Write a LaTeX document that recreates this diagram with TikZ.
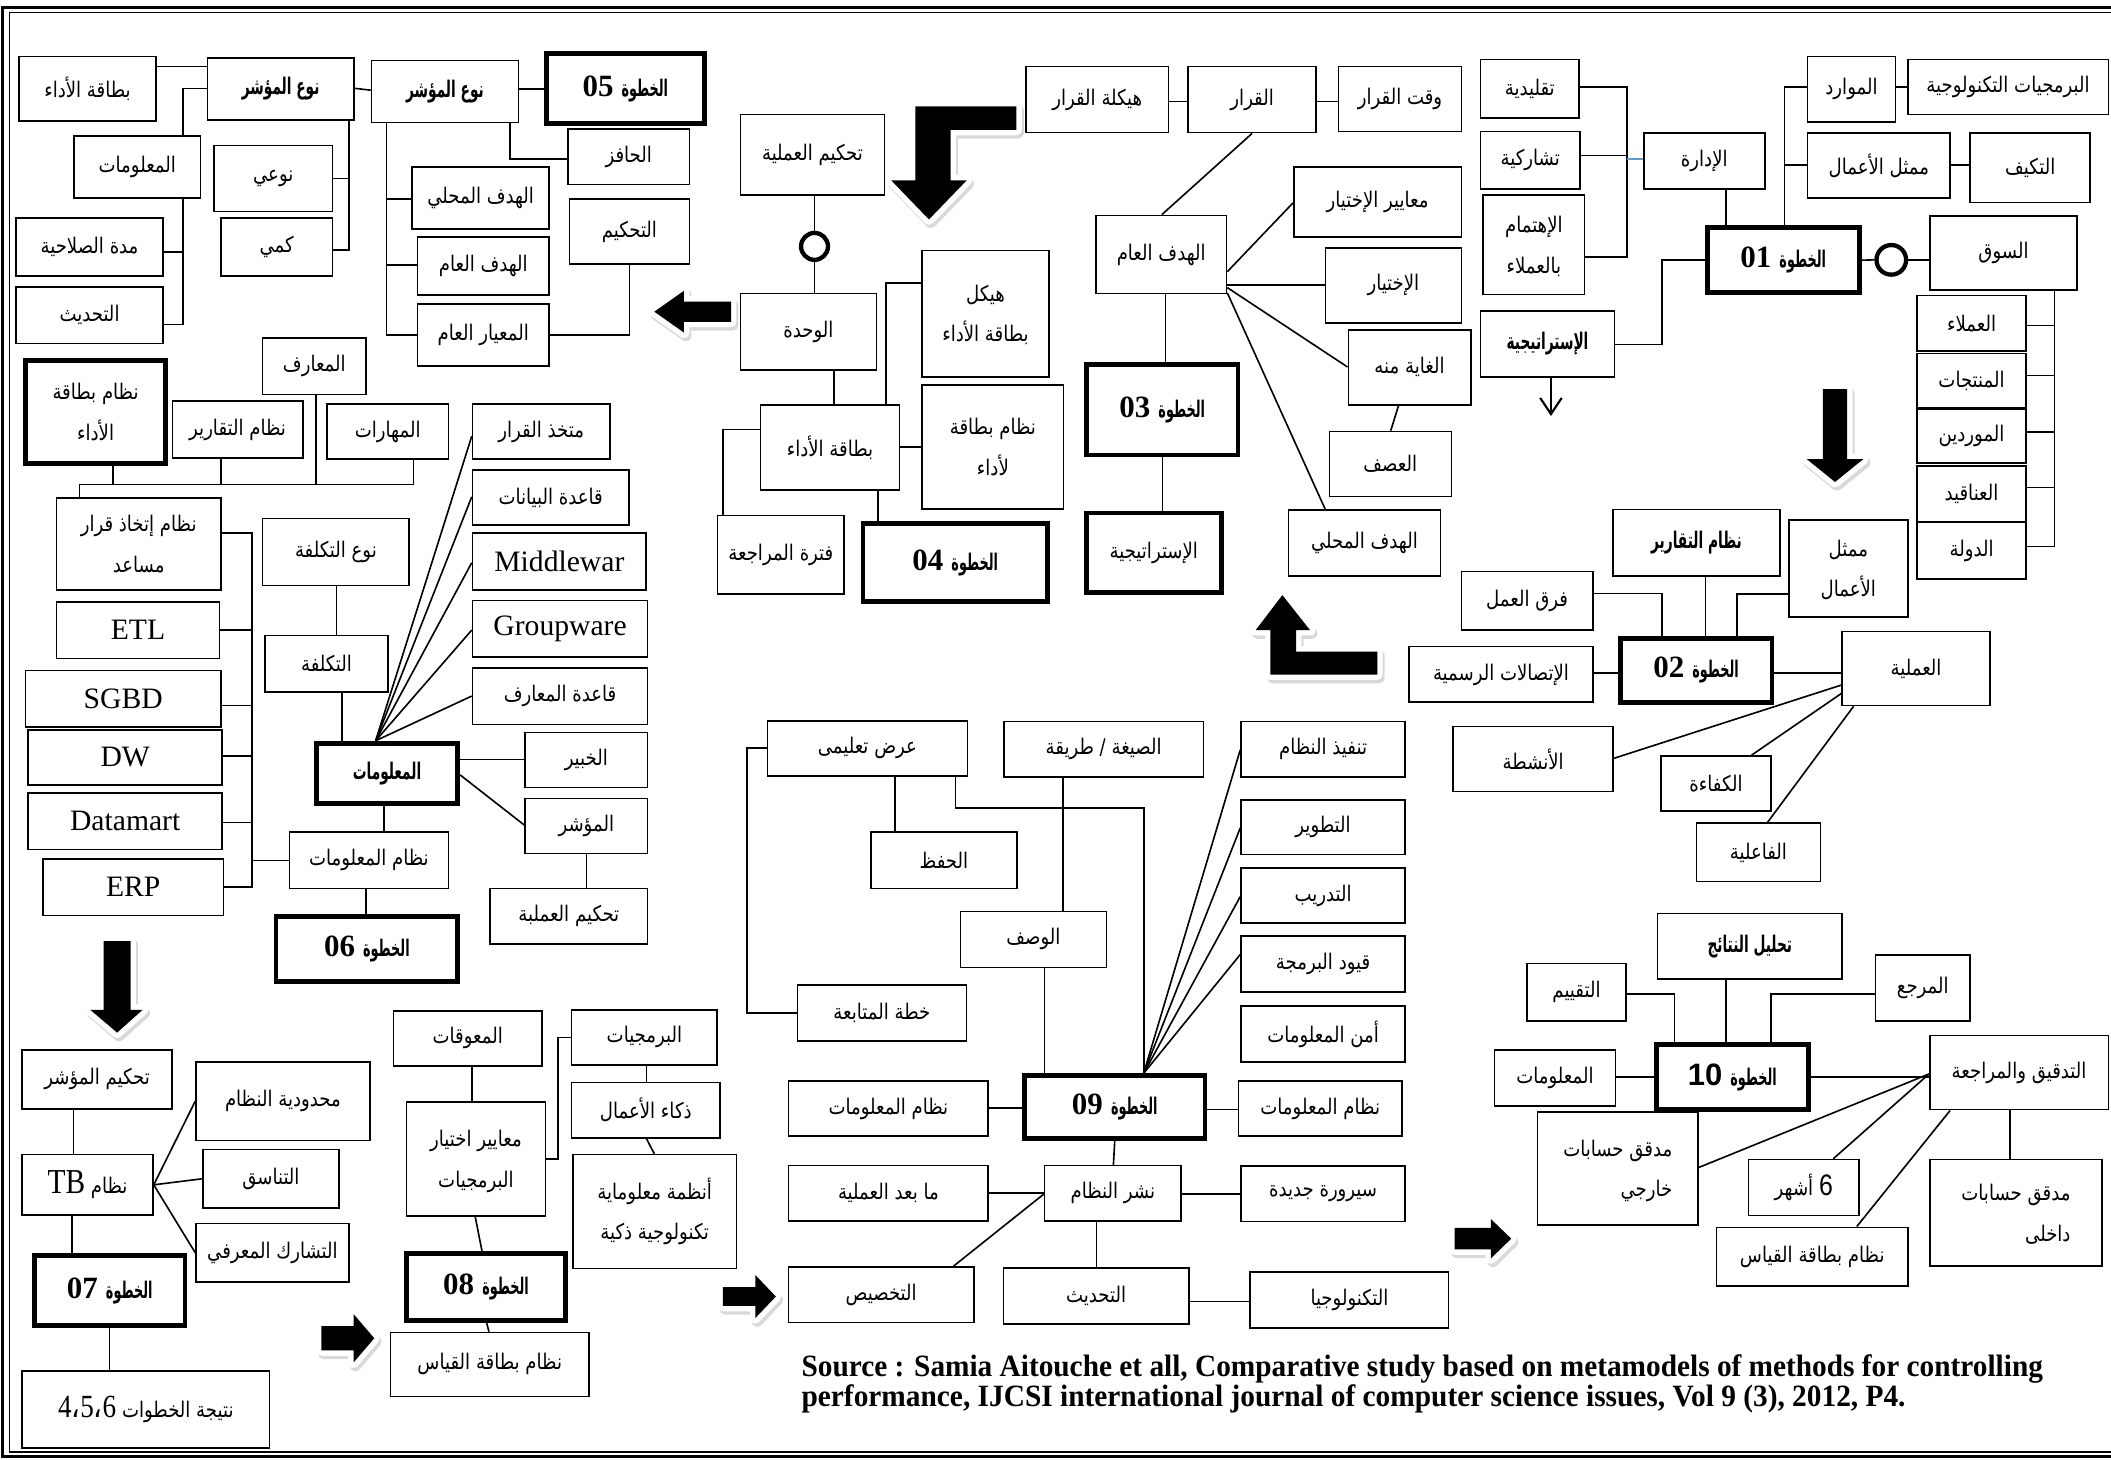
\documentclass[tikz,border=0pt]{standalone}
\usepackage{fontspec}
\usepackage{graphicx}
\setmainfont{Liberation Serif}
\setsansfont{Liberation Sans}
\newfontfamily\arabicfont[Script=Arabic]{DejaVu Sans}
\TeXXeTstate=1
\usetikzlibrary{fit,arrows.meta}
\definecolor{linkblue}{RGB}{91,155,213}

% right-to-left text runs (regular and bold), slightly condensed
\newcommand\ar[1]{\scalebox{0.84}[1]{\beginR#1\endR}}
\newcommand\arb[1]{\scalebox{0.6}[1]{\beginR#1\endR}}
% two stacked lines
\newcommand\two[2]{\begin{tabular}{@{}c@{}}#1\\#2\end{tabular}}
\newcommand\twor[2]{\begin{tabular}{@{}r@{}}#1\\#2\end{tabular}}
% "step NN" label: number on the left, word on the right
\newcommand\stepnum[2][\rmfamily]{{#1\fontsize{11.5}{12}\selectfont #2}\hspace{3pt}\scalebox{0.56}[1]{الخطوة}}
% box from corner (#3) to corner (#4), with its text centred on it
\newcommand\bx[5][]{%
  \node[box,#1,fit={(#3) (#4)}] (#2) {};
  \node[txt,#1] (#2t) at (#2.center) {#5};}
% black block arrow with white rim and soft shadow
\newcommand\glowarrow[1]{%
  \filldraw[gray!30, line width=4pt, line join=round, shift={(1.5,2.5)}] #1;
  \filldraw[fill=black, draw=white, line width=4pt, line join=round] #1;
  \fill[black] #1;}

\tikzset{
  box/.style={draw, line width=0.6pt, fill=white, inner sep=0pt},
  txt/.style={inner sep=0pt, font=\arabicfont\fontsize{8}{15}\selectfont},
  stepbox/.style={line width=1.8pt, font=\arabicfont\bfseries\fontsize{8.5}{12}\selectfont},
  stepplain/.style={line width=1.8pt},
  boldtxt/.style={font=\arabicfont\bfseries\fontsize{8.5}{12}\selectfont},
  lat/.style={font=\rmfamily\fontsize{11}{13}\selectfont},
  ln/.style={line width=0.6pt},
  ring/.style={circle, draw, line width=1.6pt, fill=white, minimum size=10pt, inner sep=0pt}
}

\begin{document}
\begin{tikzpicture}[x=0.5pt,y=-0.5pt]
\useasboundingbox (0,0) rectangle (1568,1084);

% page frame
\draw[line width=1.2pt] (1568,5.5) -- (2,5.5) -- (2,1082) -- (1568,1082);
\draw[line width=0.5pt] (1568,9.5) -- (7,9.5) -- (7,1078.5) -- (1568,1078.5);

% block arrows between the stages
\glowarrow{(508,224) -- (543,224) -- (543,239) -- (508,239) -- (508,247) -- (486,231.5) -- (508,216) -- cycle}
\glowarrow{(755,79) -- (680,79) -- (680,134) -- (662,134) -- (690,163) -- (718,134) -- (706,134) -- (706,96.5) -- (755,96.5) -- cycle}
\glowarrow{(1023,484) -- (1023,501) -- (943.6,501) -- (943.6,468) -- (932.7,468) -- (952.5,442) -- (973,468) -- (962.7,468) -- (962.7,484) -- cycle}
\glowarrow{(1354,289) -- (1372,289) -- (1372,341) -- (1384,341) -- (1363,358) -- (1342,341) -- (1354,341) -- cycle}
\glowarrow{(77,699) -- (97,699) -- (97,750) -- (106,750) -- (87,767) -- (67,750) -- (77,750) -- cycle}
\glowarrow{(238.7,985) -- (262.6,985) -- (262.6,976) -- (278,994) -- (262.6,1012) -- (262.6,1003) -- (238.7,1003) -- cycle}
\glowarrow{(537,956) -- (561,956) -- (561,947) -- (576.3,963) -- (561,979) -- (561,970) -- (537,970) -- cycle}
\glowarrow{(1080.4,912) -- (1107.4,912) -- (1107.4,905.5) -- (1122.5,920) -- (1107.4,934.7) -- (1107.4,928) -- (1080.4,928) -- cycle}

% ---------- step 05 ----------
\bx[stepbox]{n05}{406,40}{523,92}{\stepnum{05}}
\bx[boldtxt]{tA}{276,45}{385,91}{\arb{نوع المؤشر}}
\bx[boldtxt]{tB}{154,43}{263,89}{\arb{نوع المؤشر}}
\bx{bA}{14,42}{116,90}{\ar{بطاقة الأداء}}
\bx{hf}{422,96}{512,137}{\ar{الحافز}}
\bx{mal}{55,101}{149,147}{\ar{المعلومات}}
\bx{nw}{159,108}{247,157}{\ar{نوعي}}
\bx{km}{164,162}{247,205}{\ar{كمي}}
\bx{hm}{306,124}{408,170}{\ar{الهدف المحلي}}
\bx{tk}{423,148}{512,196}{\ar{التحكيم}}
\bx{md}{12,162}{121,205}{\ar{مدة الصلاحية}}
\bx{ha}{310,176}{408,219}{\ar{الهدف العام}}
\bx{th}{12,213}{121,255}{\ar{التحديث}}
\bx{ma}{310,226}{408,272}{\ar{المعيار العام}}

\draw[ln] (n05.west |- 0,66) -- (tA.east |- 0,66);
\draw[ln] (tA.west |- 0,67) -- (tB.east |- 0,65.6);
\draw[ln] (bA.east |- 0,49.5) -- (tB.west |- 0,49.5);
\draw[ln] (tB.west |- 0,65.6) -| (mal.north -| 136,0);
\draw[ln] (md.east |- 0,187) -| (mal.south -| 136,0);
\draw[ln] (th.east |- 0,241) -| (mal.south -| 136,0);
\draw[ln] (nw.east |- 0,132.5) -| (tB.south -| 259,0);
\draw[ln] (km.east |- 0,185.7) -| (tB.south -| 259,0);
\draw[ln] (hm.west |- 0,148) -| (tA.south -| 287,0);
\draw[ln] (ha.west |- 0,197) -| (tA.south -| 287,0);
\draw[ln] (ma.west |- 0,249) -| (tA.south -| 287,0);
\draw[ln] (hf.west |- 0,118) -| (tA.south -| 379,0);
\draw[ln] (tk.south) |- (ma.east |- 0,249);

% ---------- step 06 ----------
\bx[stepplain]{nbA}{19,268}{123,344}{\two{\ar{نظام بطاقة}}{\ar{الأداء}}}
\bx{maa}{195,251}{272,293}{\ar{المعارف}}
\bx{ntq}{128,298}{225,340}{\ar{نظام التقارير}}
\bx{mhr}{243,300}{333,341}{\ar{المهارات}}
\bx{mtk}{351,300}{453,341}{\ar{متخذ القرار}}
\bx{qb}{351,349}{467,390}{\ar{قاعدة البيانات}}
\bx{nit}{42,370}{164,438}{\two{\ar{نظام إتخاذ قرار}}{\ar{مساعد}}}
\bx{ntk}{195,385}{304,435}{\ar{نوع التكلفة}}
\bx[lat]{mw}{351,396}{480,438}{Middlewar}
\bx[lat]{etl}{42,447}{163,489}{ETL}
\bx[lat]{gw}{351,446}{481,488}{Groupware}
\bx{tkl}{197,472}{288,514}{\ar{التكلفة}}
\bx{qm}{351,496}{481,538}{\ar{قاعدة المعارف}}
\bx[lat]{sgbd}{19,498}{164,540}{SGBD}
\bx[lat]{dw}{21,542}{165,583}{DW}
\bx[stepbox]{mlm}{235,552}{340,597}{\arb{المعلومات}}
\bx{khb}{390,544}{481,585}{\ar{الخبير}}
\bx[lat]{dm}{21,589}{165,631}{Datamart}
\bx{msh}{390,593}{481,634}{\ar{المؤشر}}
\bx{nml}{215,618}{333,660}{\ar{نظام المعلومات}}
\bx[lat]{erp}{32,638}{166,680}{ERP}
\bx{tka}{364,660}{481,701}{\ar{تحكيم العملبة}}
\bx[stepbox]{n06}{205,681}{340,729}{\stepnum{06}}

\coordinate (bus6) at (59,360);
\draw[ln] (nit.north -| bus6) -- (bus6);
\draw[ln] (nbA.south -| 84,0) |- (bus6);
\draw[ln] (ntq.south -| 164,0) |- (bus6);
\draw[ln] (maa.south -| 234.6,0) |- (bus6);
\draw[ln] (mhr.south -| 307,0) |- (bus6);
\foreach \t/\y in {mtk/324, qb/369, mw/418, gw/468, qm/517}
  \draw[ln] (mlm.north -| 279,0) -- (\t.west |- 0,\y);
\draw[ln] (mlm.east |- 0,564) -- (khb.west |- 0,564);
\draw[ln] (mlm.east |- 0,575.6) -- (msh.west |- 0,612.8);
\draw[ln] (mlm.south -| 285,0) -- (nml.north -| 285,0);
\draw[ln] (nml.south -| 272,0) -- (n06.north -| 272,0);
\draw[ln] (msh.south -| 435.5,0) -- (tka.north -| 435.5,0);
\draw[ln] (ntk.south -| 250,0) -- (tkl.north -| 250,0);
\draw[ln] (tkl.south -| 254,0) -- (mlm.north -| 254,0);
\coordinate (bus7) at (187,639);
\draw[ln] (nml.west) -- (nml.west -| bus7);
\foreach \t/\y in {nit/396, etl/468, sgbd/524, dw/561.5, dm/611, erp/659}
  \draw[ln] (\t.east |- 0,\y) -| (bus7);

% ---------- step 04 ----------
\bx{tka2}{550,85}{657,145}{\ar{تحكيم العملية}}
\node[ring] (circ) at (605,183) {};
\bx{wh}{550,218}{651,275}{\ar{الوحدة}}
\bx{hyk}{685,186}{779,280}{\two{\ar{هيكل}}{\ar{بطاقة الأداء}}}
\bx{bta}{565,301}{668,364}{\ar{بطاقة الأداء}}
\bx{nbl}{685,286}{790,378}{\two{\ar{نظام بطاقة}}{\ar{لأداء}}}
\bx{ftr}{533,383}{627,441}{\ar{فترة المراجعة}}
\bx[stepbox]{n04}{641,389}{778,447}{\stepnum{04}}

\draw[ln] (circ.north) -- (circ.north |- tka2.south);
\draw[ln] (circ.south) -- (circ.south |- wh.north);
\draw[ln] (wh.south -| 619.6,0) -- (bta.north -| 619.6,0);
\draw[ln] (hyk.west |- 0,210.4) -| (bta.north -| 658,0);
\draw[ln] (bta.south -| 652,0) -- (n04.north -| 652,0);
\draw[ln] (bta.west |- 0,319) -| (ftr.north -| 537,0);
\draw[ln] (bta.east |- 0,332) -- (nbl.west |- 0,332);

% ---------- step 03 ----------
\bx{hyq}{762,49.5}{868,98.5}{\ar{هيكلة القرار}}
\bx{qr}{882.5,49.5}{977.7,98.5}{\ar{القرار}}
\bx{wq}{994.3,49.3}{1085.5,97.8}{\ar{وقت القرار}}
\bx{mkh}{961,124}{1085.5,176}{\ar{معايير الإختيار}}
\bx{ha3}{814,160}{911,218}{\ar{الهدف العام}}
\bx{ikh}{984.4,184}{1085.5,240}{\ar{الإختيار}}
\bx{gh}{1001.5,245}{1092.4,300.6}{\ar{الغاية منه}}
\bx[stepbox]{n03}{807,271}{919.5,338}{\stepnum{03}}
\bx{asf}{987.4,320.5}{1078,368.7}{\ar{العصف}}
\bx[stepplain]{ist}{807,381}{907,440}{\ar{الإستراتيجية}}
\bx{hm3}{957,379}{1070,428}{\ar{الهدف المحلي}}

\draw[ln] (hyq.east |- 0,75.5) -- (qr.west |- 0,75.5);
\draw[ln] (qr.east |- 0,75.5) -- (wq.west |- 0,75.5);
\draw[ln] (qr.south -| 930,0) -- (ha3.north -| 863,0);
\draw[ln] (ha3.east |- 0,201.8) -- (mkh.west |- 0,150.7);
\draw[ln] (ha3.east |- 0,211.5) -- (ikh.west |- 0,211.5);
\draw[ln] (ha3.east |- 0,213.6) -- (gh.west |- 0,272.6);
\draw[ln] (ha3.east |- 0,217.5) -- (hm3.north -| 984.4,0);
\draw[ln] (ha3.south -| 865.6,0) -- (n03.north -| 865.6,0);
\draw[ln] (n03.south -| 863.4,0) -- (ist.north -| 863.4,0);
\draw[ln] (gh.south -| 1038.8,0) -- (asf.north -| 1033,0);

% ---------- step 01 ----------
\bx{tql}{1099.6,44.3}{1173,87.5}{\ar{تقليدية}}
\bx{tsh}{1099.6,97.6}{1173.7,140.6}{\ar{تشاركية}}
\bx{ihm}{1101.6,145}{1177,218.8}{\two{\ar{الإهتمام}}{\ar{بالعملاء}}}
\bx[boldtxt]{ist1}{1099.6,230.8}{1199.3,279.8}{\arb{الإستراتيجية}}
\bx{idr}{1221,98.7}{1310.8,140.6}{\ar{الإدارة}}
\bx[stepbox]{n01}{1268,169}{1381,217.5}{\stepnum{01}}
\bx{mwr}{1342.5,42}{1408,90.7}{\ar{الموارد}}
\bx{brt}{1417,44.3}{1566,84.9}{\ar{البرمجيات التكنولوجية}}
\bx{mma}{1342.5,98.7}{1448.5,147.2}{\ar{ممثل الأعمال}}
\bx{tky}{1463.4,98.7}{1552.6,150.4}{\ar{التكيف}}
\node[ring, minimum size=11pt] (circ1) at (1404.8,193) {};
\bx{swq}{1433.4,160.5}{1542.9,215.4}{\ar{السوق}}
\bx{aml}{1424,219.6}{1504.8,260.5}{\ar{العملاء}}
\bx{mnt}{1424,262.6}{1504.8,303}{\ar{المنتجات}}
\bx{mwd}{1424,303.7}{1504.8,344}{\ar{الموردين}}
\bx{anq}{1424,346}{1504.8,387.3}{\ar{العناقيد}}
\bx{dwl}{1424,387.8}{1504.8,430}{\ar{الدولة}}

\coordinate (bus1) at (1208.4,118);
\draw[ln] (tql.east |- 0,64.5) -| (bus1);
\draw[ln] (tsh.east |- 0,115.4) -| (bus1);
\draw[ln] (ihm.east |- 0,191) -| (bus1);
\draw[ln, linkblue] (bus1) -- (idr.west |- bus1);
\draw[ln] (idr.south -| 1281.8,0) -- (n01.north -| 1281.8,0);
\draw[ln] (mwr.west |- 0,64.5) -| (n01.north -| 1325.6,0);
\draw[ln] (mma.west |- 0,122.5) -| (n01.north -| 1325.6,0);
\draw[ln] (mwr.east |- 0,64.5) -- (brt.west |- 0,64.5);
\draw[ln] (mma.east |- 0,122.5) -- (tky.west |- 0,122.5);
\draw[ln] (n01.west) -- (n01.west -| 1234.7,0) |- (ist1.east |- 0,256);
\draw[ln] (n01.east) -- (circ1.west);
\draw[ln] (circ1.east) -- (swq.west |- circ1.east);
\coordinate (tip1) at (1152,309);
\draw[ln, line width=0.8pt, -{Straight Barb[length=6pt,width=8pt]}] (ist1.south -| tip1) -- (tip1);
\foreach \t/\y in {aml/241.9, mnt/279, mwd/321, anq/362, dwl/405.8}
  \draw[ln] (\t.east |- 0,\y) -| (swq.south -| 1526,0);

% ---------- step 02 ----------
\bx[boldtxt]{ntq2}{1198.3,378.3}{1321.9,427.8}{\arb{نظام التقارير}}
\bx{mma2}{1328.6,386.2}{1417.2,458.5}{\two{\ar{ممثل}}{\ar{الأعمال}}}
\bx{frq}{1085.5,424.6}{1183.1,467.9}{\ar{فرق العمل}}
\bx{itt}{1046.7,480.3}{1183.1,521.6}{\ar{الإتصالات الرسمية}}
\bx[stepbox]{n02}{1203.4,474}{1316.2,522}{\stepnum{02}}
\bx{aml2}{1368.4,469}{1478,524}{\ar{العملية}}
\bx{ans}{1079.4,539.7}{1198.3,588}{\ar{الأنشطة}}
\bx{kfa}{1233.7,561.5}{1315.5,602.4}{\ar{الكفاءة}}
\bx{fal}{1260,611.5}{1352.2,654.8}{\ar{الفاعلية}}

\draw[ln] (frq.east |- 0,440.7) -| (n02.north -| 1234.3,0);
\draw[ln] (ntq2.south -| 1266.7,0) -- (n02.north -| 1266.7,0);
\draw[ln] (mma2.west |- 0,441.2) -| (n02.north -| 1290,0);
\draw[ln] (itt.east |- 0,500) -- (n02.west |- 0,500);
\draw[ln] (n02.east |- 0,500) -- (aml2.west |- 0,500);
\draw[ln] (aml2.west |- 0,508.8) -- (ans.east |- 0,563.2);
\draw[ln] (aml2.west |- 0,515) -- (kfa.north -| 1301,0);
\draw[ln] (aml2.south -| 1376.8,0) -- (fal.north -| 1312.8,0);

% ---------- step 10 ----------
\bx[boldtxt]{tn}{1231,678.6}{1368.4,727.3}{\arb{تحليل النتائج}}
\bx{tqy}{1134.3,715.6}{1207.7,758.5}{\ar{التقييم}}
\bx{mrj}{1393,709.5}{1463.4,758.5}{\ar{المرجع}}
\bx{mal10}{1110,779.7}{1200,821.3}{\ar{المعلومات}}
\bx[stepbox]{n10}{1230.3,775.8}{1343.1,824.2}{\stepnum[\sffamily]{10}}
\bx{tdq}{1433.4,769.1}{1566,824.2}{\ar{التدقيق والمراجعة}}
\bx{mkh10}{1142,826}{1261.3,910}{\twor{\ar{مدقق حسابات}}{\ar{خارجي}}}
\bx{ash}{1298.7,861.3}{1380.9,902.9}{\ar{\beginL{\sffamily\fontsize{11}{12}\selectfont 6}\endL{} أشهر}}
\bx{mdk}{1433.4,861.3}{1561.4,940.5}{\twor{\ar{مدقق حسابات}}{\ar{داخلى}}}
\bx{nbq10}{1275,911.6}{1417.2,955}{\ar{نظام بطاقة القياس}}

\draw[ln] (tqy.east |- 0,738.2) -| (n10.north -| 1243.8,0);
\draw[ln] (tn.south -| 1281.8,0) -- (n10.north -| 1281.8,0);
\draw[ln] (mrj.west |- 0,738.2) -| (n10.north -| 1315.5,0);
\draw[ln] (mal10.east |- 0,800) -- (n10.west |- 0,800);
\draw[ln] (n10.east |- 0,800) -- (tdq.west |- 0,800);
\draw[ln] (tdq.west |- 0,797.7) -- (mkh10.east |- 0,867.1);
\draw[ln] (tdq.west |- 0,797.7) -- (ash.north -| 1361.7,0);
\draw[ln] (tdq.south -| 1448.5,0) -- (nbq10.north -| 1379.2,0);
\draw[ln] (tdq.south -| 1493,0) -- (mdk.north -| 1493,0);

% ---------- step 09 ----------
\bx{art}{570,535.3}{718.5,576.3}{\ar{عرض تعليمى}}
\bx{syg}{745.8,536}{893.8,577}{\ar{الصيغة / طريقة}}
\bx{tnf}{921.8,536}{1043.7,577}{\ar{تنفيذ النظام}}
\bx{ttw}{921.8,594}{1043.7,634.6}{\ar{التطوير}}
\bx{tdr}{921.8,644.5}{1043.7,685.7}{\ar{التدريب}}
\bx{qyd}{921.8,695.4}{1043.7,736.6}{\ar{قيود البرمجة}}
\bx{amn}{921.8,747.4}{1043.7,788.6}{\ar{أمن المعلومات}}
\bx{hfz}{646.9,618}{755.3,659.8}{\ar{الحفظ}}
\bx{wsf}{713.4,677}{821.8,718.5}{\ar{الوصف}}
\bx{khm}{592.3,731.6}{717.8,773.2}{\ar{خطة المتابعة}}
\bx[stepbox]{n09}{761,799}{895,845.5}{\stepnum{09}}
\bx{nml9a}{585.8,803}{734,844}{\ar{نظام المعلومات}}
\bx{nml9b}{919.8,802.8}{1041.5,844}{\ar{نظام المعلومات}}
\bx{nsh}{775.8,865.8}{877.4,906.9}{\ar{نشر النظام}}
\bx{mbd}{585.8,865.8}{734,906.9}{\ar{ما بعد العملية}}
\bx{syr}{921.8,866.2}{1043.7,907.2}{\ar{سيرورة جديدة}}
\bx{tkh}{585.8,941}{723.3,982.4}{\ar{التخصيص}}
\bx{thd}{745.4,942}{883,983.6}{\ar{التحديث}}
\bx{tkn}{928.6,945}{1076,986.6}{\ar{التكنولوجيا}}

\draw[ln] (art.west) -- (art.west -| 555,0) |- (khm.west);
\draw[ln] (art.south -| 665,0) -- (hfz.north -| 665,0);
\draw[ln] (art.south -| 709.6,0) -- (709.6,600) -| (n09.north -| 849.5,0);
\draw[ln] (syg.south -| 789.4,0) -- (wsf.north -| 789.4,0);
\draw[ln] (wsf.south -| 775.8,0) -- (n09.north -| 775.8,0);
\foreach \t/\y in {tnf/557, ttw/615, tdr/666, qyd/709}
  \draw[ln] (\t.west |- 0,\y) -- (n09.north -| 849.5,0);
\draw[ln] (nml9a.east |- 0,823) -- (n09.west |- 0,823);
\draw[ln] (n09.east |- 0,824) -- (nml9b.west |- 0,824);
\draw[ln] (n09.south -| 828,0) -- (nsh.north -| 827,0);
\draw[ln] (mbd.east |- 0,886) -- (nsh.west |- 0,886);
\draw[ln] (nsh.east |- 0,887) -- (syr.west |- 0,887);
\draw[ln] (nsh.west |- 0,887) -- (tkh.north -| 708.3,0);
\draw[ln] (nsh.south -| 814.3,0) -- (thd.north -| 814.3,0);
\draw[ln] (thd.east |- 0,966.8) -- (tkn.west |- 0,966.8);

% ---------- steps 07 and 08 ----------
\bx{tkm}{16.4,779.7}{127.9,823.7}{\ar{تحكيم المؤشر}}
\bx{mhd}{145.6,788.9}{274.6,847}{\ar{محدودية النظام}}
\bx{ntb}{16.4,857.6}{113.6,902.5}{\ar{نظام \beginL{\rmfamily\fontsize{13}{14}\selectfont TB}\endL}}
\bx{tns}{150.7,853.8}{251.7,897.3}{\ar{التناسق}}
\bx{tsm}{145.6,908.7}{259.2,952.2}{\ar{التشارك المعرفي}}
\bx[stepbox]{n07}{25.6,932.4}{137.4,984.8}{\stepnum{07}}
\bx{ntj}{16.4,1018.2}{200.2,1075.7}{\ar{نتيجة الخطوات \beginL{\rmfamily\fontsize{12}{13}\selectfont 4{\arabicfont ،}5{\arabicfont ،}6}\endL}}
\bx{mwq}{292.3,750.8}{402.5,791.6}{\ar{المعوقات}}
\bx{myr}{301.8,818.5}{405.2,903.3}{\two{\ar{معايير اختيار}}{\ar{البرمجيات}}}
\bx{brm}{424.6,750}{532.7,791.1}{\ar{البرمجيات}}
\bx{dka}{424.6,804}{534.8,845.2}{\ar{ذكاء الأعمال}}
\bx{anz}{425.6,857.6}{547,942.3}{\two{\ar{أنظمة معلوماية}}{\ar{تكنولوجية ذكية}}}
\bx[stepbox]{n08}{301.8,931}{420.2,981}{\stepnum{08}}
\bx{nbq}{290,989.7}{437.6,1037.2}{\ar{نظام بطاقة القياس}}

\draw[ln] (tkm.south -| 54.6,0) -- (ntb.north -| 54.6,0);
\draw[ln] (ntb.east) -- (mhd.west);
\draw[ln] (ntb.east) -- (tns.west);
\draw[ln] (ntb.east) -- (tsm.west);
\draw[ln] (ntb.south -| 53.5,0) -- (n07.north -| 53.5,0);
\draw[ln] (n07.south -| 81.2,0) -- (ntj.north -| 81.2,0);
\draw[ln] (mwq.south -| 350.6,0) -- (myr.north -| 350.6,0);
\draw[ln] (myr.south -| 353,0) -- (n08.north -| 358,0);
\draw[ln] (n08.south -| 361.5,0) -- (nbq.north -| 363.2,0);
\draw[ln] (myr.east) -- (myr.east -| 414.4,0) |- (brm.west);
\draw[ln] (brm.south -| 480.2,0) -- (dka.north -| 480.2,0);
\draw[ln] (dka.south -| 480.2,0) -- (anz.north -| 486,0);

% ---------- source line ----------
\node[anchor=base west, inner sep=0pt] (src1) at (595,1022.5)
  {\resizebox{461pt}{\height}{\fontsize{11.5}{13}\selectfont\bfseries Source : Samia Aitouche et all, Comparative study based on metamodels of methods for controlling}};
\node[anchor=base west, inner sep=0pt] (src2) at (595,1045)
  {\resizebox{410pt}{\height}{\fontsize{11.5}{13}\selectfont\bfseries performance, IJCSI international journal of computer science issues, Vol 9 (3), 2012, P4.}};
\end{tikzpicture}
\end{document}
